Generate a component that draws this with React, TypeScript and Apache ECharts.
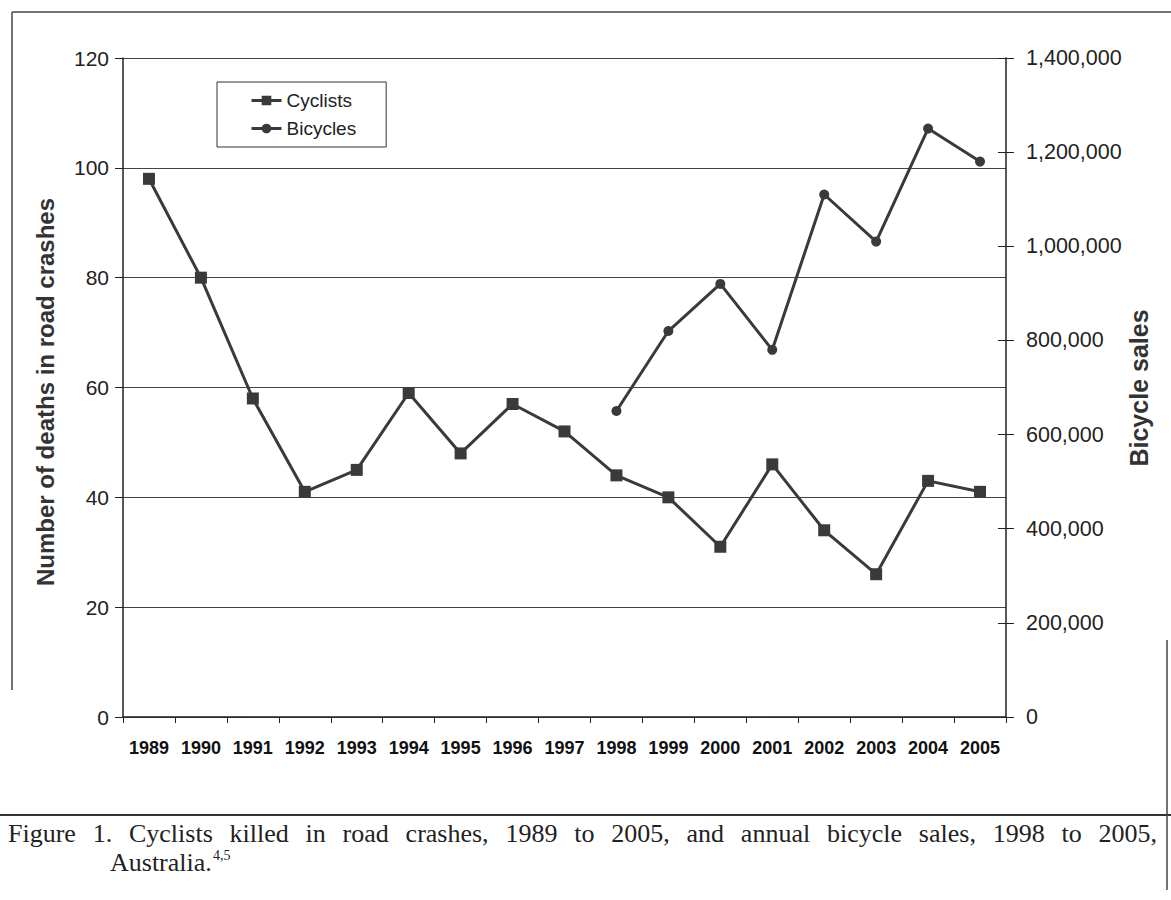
import React, { useEffect, useRef } from "react";
import * as echarts from "echarts";

const years = ["1989","1990","1991","1992","1993","1994","1995","1996","1997","1998","1999","2000","2001","2002","2003","2004","2005"];
const cyclists = [98, 80, 58, 41, 45, 59, 48, 57, 52, 44, 40, 31, 46, 34, 26, 43, 41];
const bicycles = [null, null, null, null, null, null, null, null, null, 650000, 820000, 920000, 780000, 1110000, 1010000, 1250000, 1180000];
const leftTicks = { min: 0, max: 120, interval: 20 };
const rightTicks = { min: 0, max: 1400000, interval: 200000 };
const captionLine1 = "Figure 1. Cyclists killed in road crashes, 1989 to 2005, and annual bicycle sales, 1998 to 2005,";
const captionLine2 = "Australia.";
const captionSup = "4,5";

const INK = "#3a3a3a";
const SANS = "'Liberation Sans', Arial, sans-serif";
const SERIF = "'Liberation Serif', 'Times New Roman', serif";
const CAP_FONT = `26px ${SERIF}`;

function justifiedWords(text: string, font: string, x0: number, x1: number) {
  const words = text.split(" ");
  const ctx = document.createElement("canvas").getContext("2d")!;
  ctx.font = font;
  const widths = words.map((w) => ctx.measureText(w).width);
  const total = widths.reduce((a, b) => a + b, 0);
  const gap = (x1 - x0 - total) / (words.length - 1);
  let x = x0;
  return words.map((w, i) => {
    const item = { w, x };
    x += widths[i] + gap;
    return item;
  });
}

export default function App() {
  const ref = useRef<HTMLDivElement>(null);
  useEffect(() => {
    if (!ref.current) return;
    const chart = echarts.init(ref.current, null, { renderer: "svg" });
    const words = justifiedWords(captionLine1, CAP_FONT, 8, 1157);
    const graphic: any[] = [
      { type: "line", shape: { x1: 12, y1: 12, x2: 1171, y2: 12 }, style: { stroke: "#444", lineWidth: 1.5 } },
      { type: "line", shape: { x1: 12, y1: 12, x2: 12, y2: 690 }, style: { stroke: "#444", lineWidth: 1.5 } },
      { type: "line", shape: { x1: 0, y1: 815, x2: 1171, y2: 815 }, style: { stroke: "#333", lineWidth: 2 } },
      { type: "line", shape: { x1: 1167, y1: 640, x2: 1167, y2: 890 }, style: { stroke: "#444", lineWidth: 1.5 } },
      {
        type: "text", x: 45, y: 392, rotation: Math.PI / 2,
        style: { text: "Number of deaths in road crashes", font: `bold 24px ${SANS}`, fill: "#333", textAlign: "center", textVerticalAlign: "middle" },
      },
      {
        type: "text", x: 1139, y: 388, rotation: Math.PI / 2,
        style: { text: "Bicycle sales", font: `bold 25px ${SANS}`, fill: "#333", textAlign: "center", textVerticalAlign: "middle" },
      },
      ...words.map(({ w, x }) => ({
        type: "text", x, y: 820,
        style: { text: w, font: CAP_FONT, fill: "#222", textAlign: "left", textVerticalAlign: "top" },
      })),
      { type: "text", x: 110, y: 849, style: { text: captionLine2, font: CAP_FONT, fill: "#222", textAlign: "left", textVerticalAlign: "top" } },
      { type: "text", x: 213, y: 848, style: { text: captionSup, font: `14px ${SERIF}`, fill: "#222", textAlign: "left", textVerticalAlign: "top" } },
    ];
    chart.setOption({
      animation: false,
      backgroundColor: "#fff",
      grid: { left: 123, right: 165, top: 58, bottom: 183 },
      legend: {
        left: 217, top: 82, orient: "vertical",
        data: ["Cyclists", "Bicycles"],
        itemWidth: 30, itemHeight: 12, itemGap: 9,
        padding: [9, 30, 9, 33],
        borderColor: "#333", borderWidth: 1,
        lineStyle: { width: 3 },
        textStyle: { fontFamily: SANS, fontSize: 19, color: "#222" },
      },
      xAxis: {
        type: "category", data: years, boundaryGap: true,
        axisLine: { lineStyle: { color: "#222", width: 1.5 } },
        axisTick: { show: true, inside: false, length: 6, alignWithLabel: false, lineStyle: { color: "#222" } },
        axisLabel: { fontFamily: SANS, fontSize: 18, fontWeight: "bold", color: "#111", margin: 22, interval: 0 },
      },
      yAxis: [
        {
          type: "value", position: "left", ...leftTicks,
          axisLine: { show: true, lineStyle: { color: "#222", width: 1.5 } },
          axisTick: { show: true, length: 8, lineStyle: { color: "#222" } },
          axisLabel: { fontFamily: SANS, fontSize: 21, color: "#222", margin: 14 },
          splitLine: { show: true, lineStyle: { color: "#444", width: 1 } },
        },
        {
          type: "value", position: "right", ...rightTicks,
          axisLine: { show: true, lineStyle: { color: "#222", width: 1.5 } },
          axisTick: { show: true, length: 8, lineStyle: { color: "#222" } },
          axisLabel: { fontFamily: SANS, fontSize: 21.5, color: "#222", margin: 20, formatter: (v: number) => v.toLocaleString("en-US") },
          splitLine: { show: false },
        },
        {
          type: "value", position: "right", ...rightTicks,
          axisLine: { show: false },
          axisTick: { show: true, inside: true, length: 8, lineStyle: { color: "#222" } },
          axisLabel: { show: false },
          splitLine: { show: false },
        },
      ],
      series: [
        {
          name: "Cyclists", type: "line", yAxisIndex: 0, data: cyclists,
          symbol: "rect", symbolSize: 12,
          lineStyle: { color: INK, width: 3 }, itemStyle: { color: INK },
        },
        {
          name: "Bicycles", type: "line", yAxisIndex: 1, data: bicycles,
          symbol: "circle", symbolSize: 10, connectNulls: false,
          lineStyle: { color: INK, width: 3 }, itemStyle: { color: INK },
        },
      ],
      graphic,
    });
    return () => chart.dispose();
  }, []);
  return <div ref={ref} style={{ position: "fixed", left: 0, top: 0, width: 1171, height: 900, background: "#fff" }} />;
}
